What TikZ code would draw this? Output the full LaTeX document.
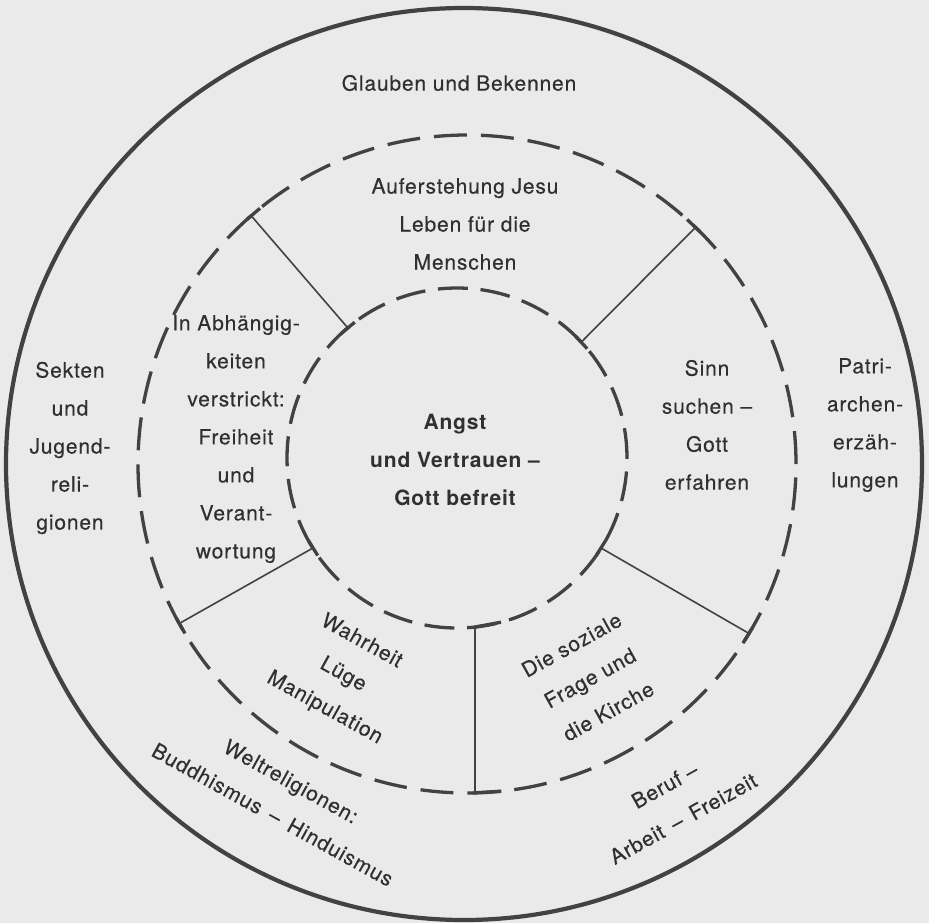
\documentclass[tikz,border=0pt]{standalone}
\usepackage{fontspec}
\setmainfont{TeX Gyre Heros}[LetterSpace=4, UprightFeatures={FakeBold=0.3}]
\usetikzlibrary{shapes.geometric}
\definecolor{bgcol}{RGB}{234,234,234}
\definecolor{ink}{RGB}{66,66,66}
\definecolor{txtcol}{RGB}{48,48,48}
\newcommand{\wdash}{\hspace{10pt}–\hspace{10pt}}
\begin{document}
\begin{tikzpicture}[x=1pt,y=-1pt,
  txt/.style={font=\fontsize{21pt}{38pt}\selectfont, text=txtcol, align=center, inner sep=0pt},
  btxt/.style={txt, font=\fontsize{21pt}{38pt}\selectfont\bfseries},
  ringshape/.style={circle, draw=ink, inner sep=0pt, outer sep=0pt, line width=3.3pt},
  thinline/.style={draw=ink, line width=1.6pt},
  tickline/.style={draw=ink, line width=3.3pt}]
\fill[bgcol] (0,0) rectangle (929,923);
\useasboundingbox (0,0) rectangle (929,923);
% circles
\node[ellipse, draw=ink, line width=4.2pt, minimum width=916pt, minimum height=912pt, inner sep=0pt, outer sep=0pt] (outer) at (464,464) {};
\node[ringshape, dash pattern=on 33pt off 14pt, minimum size=658pt] (mid) at (467,464) {};
\node[ringshape, dash pattern=on 30pt off 12.7pt, minimum size=340pt] (core) at (457,458) {};
% connecting lines
\draw[thinline] (mid.131) -- (core.130);
\draw[thinline] (mid.46.5) -- (core.43);
\draw[thinline] (mid.209.5) -- (core.212);
\draw[thinline] (mid.-31.5) -- (core.-32);
\draw[thinline] (core.-84.6) -- (core.-84.6 |- mid.south);
% junction ticks
\draw[tickline] (mid.129.5) -- (mid.132.5);
\draw[tickline] (mid.45) -- (mid.48);
\draw[tickline] (mid.208) -- (mid.211);
\draw[tickline] (mid.-33) -- (mid.-30);
\draw[tickline] (core.127) -- (core.133);
\draw[tickline] (core.40) -- (core.46);
\draw[tickline] (core.209) -- (core.215);
\draw[tickline] (core.-35) -- (core.-29);
\draw[tickline] (core.-84.6) -- (core.-75);
\draw[tickline] (mid.-89) -- (mid.-84);
% texts
\node[txt] (glauben) at (459,83) {Glauben und Bekennen};
\node[txt] (aufer) at (465,224) {Auferstehung Jesu\\Leben für die\\Menschen};
\node[txt] (sekten) at (70,448) {Sekten\\und\\Jugend-\\reli-\\gionen};
\node[txt] (abh) at (236,439) {In Abhängig-\\keiten\\verstrickt:\\Freiheit\\und\\Verant-\\wortung};
\node[btxt] (angst) at (455,460) {Angst\\und Vertrauen –\\Gott befreit};
\node[txt] (sinn) at (707,425) {Sinn\\suchen –\\Gott\\erfahren};
\node[txt] (patri) at (865,425) {Patri-\\archen-\\erzäh-\\lungen};
\node[txt, rotate=-29] (wahr) at (343,675) {Wahrheit\\Lüge\\Manipulation};
\node[txt, rotate=-29] (welt) at (282,798) {Weltreligionen:\\Buddhismus\wdash Hinduismus};
\node[txt, rotate=29] (sozial) at (590,678) {Die soziale\\Frage und\\die Kirche};
\node[txt, rotate=29] (beruf) at (674,802) {Beruf –\\Arbeit\wdash Freizeit};
\end{tikzpicture}
\end{document}
